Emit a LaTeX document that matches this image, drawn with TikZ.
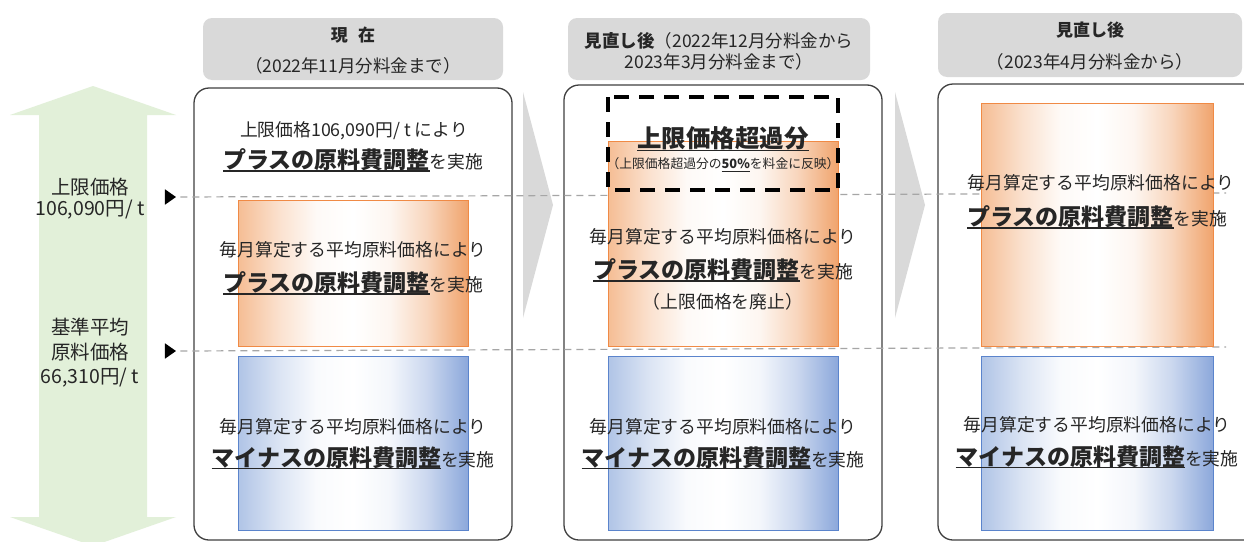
\documentclass[tikz,border=0pt]{standalone}
\usepackage{fontspec}
\setmainfont{Noto Sans CJK JP}
\usetikzlibrary{shapes.geometric}
\definecolor{tx}{HTML}{262626}
\definecolor{grn}{HTML}{E2F0D9}
\definecolor{hdrgray}{HTML}{D9D9D9}
\definecolor{chev}{HTML}{D9D9D9}
\definecolor{panelc}{HTML}{404040}
\definecolor{dashg}{HTML}{A6A6A6}
\definecolor{oL}{HTML}{F5BD94}
\definecolor{oR}{HTML}{F0A46D}
\definecolor{oB}{HTML}{F08A45}
\definecolor{bL}{HTML}{B0C4E6}
\definecolor{bR}{HTML}{8CA8DB}
\definecolor{bB}{HTML}{5B84CC}
\pgfdeclarehorizontalshading{oshade}{100bp}{color(0bp)=(oL); color(25bp)=(oL); color(34bp)=(oL!45!white); color(42bp)=(oL!8!white); color(50bp)=(white); color(58bp)=(oR!10!white); color(66bp)=(oR!45!white); color(75bp)=(oR); color(100bp)=(oR)}
\pgfdeclarehorizontalshading{bshade}{100bp}{color(0bp)=(bL); color(25bp)=(bL); color(34bp)=(bL!45!white); color(42bp)=(bL!8!white); color(50bp)=(white); color(58bp)=(bR!10!white); color(66bp)=(bR!45!white); color(75bp)=(bR); color(100bp)=(bR)}
\newsavebox\ulbox
\newcommand\myul[1]{\sbox\ulbox{#1}\rlap{\rule[-3.2pt]{\wd\ulbox}{1.3pt}}\usebox\ulbox}
\newcommand\fs[1]{\fontsize{#1}{#1}\selectfont}
\begin{document}
\begin{tikzpicture}[x=1pt,y=-1pt,
  txt/.style={text=tx,inner sep=0pt,font=\fs{17.8}},
  hdr/.style={fill=hdrgray,rounded corners=9pt,draw=none},
  panel/.style={draw=panelc,line width=1.3pt,rounded corners=15pt},
  obox/.style={draw=oB,line width=1pt,shading=oshade,shading angle=0,inner sep=0pt},
  bbox/.style={draw=bB,line width=1pt,shading=bshade,shading angle=0,inner sep=0pt},
  gdash/.style={draw=dashg,line width=1.2pt,dash pattern=on 7pt off 5pt},
  marker/.style={isosceles triangle,isosceles triangle apex angle=70,fill=black,inner sep=0pt,minimum height=11pt,minimum width=11pt},
  bigdash/.style={draw=black,line width=3.4pt,dash pattern=on 15pt off 10pt}
]
\clip (0,0) rectangle (1244,541);
\fill[white] (0,0) rectangle (1244,541);

% green double arrow
\fill[grn] (93,86) -- (176,115) -- (147,115) -- (147,517) -- (176,517) -- (93,546)
  -- (10,517) -- (39,517) -- (39,115) -- (10,115) -- cycle;

% headers
\node[hdr,minimum width=300pt,minimum height=62pt] (h1) at (353,49) {};
\node[hdr,minimum width=302pt,minimum height=62pt] (h2) at (719,49) {};
\node[hdr,minimum width=304pt,minimum height=64pt] (h3) at (1090,45) {};

% panels
\draw[panel] (194,88) rectangle (512,540);
\draw[panel] (564,85) rectangle (882,540);
\draw[panel] (938,84) rectangle (1270,540);

% chevrons
\fill[chev] (523,92) -- (553,205) -- (523,318) -- cycle;
\fill[chev] (895,92) -- (925,205) -- (895,318) -- cycle;

% markers and dashed lines
\node[marker] (m1) at (169,197) {};
\node[marker] (m2) at (169,351) {};
\coordinate (e1) at (1226,193);
\coordinate (e2) at (1226,347);
\draw[gdash] ([xshift=4pt]m1.east) -- (e1);
\draw[gdash] ([xshift=4pt]m2.east) -- (e2);

% boxes
\node[obox,minimum width=230pt,minimum height=146pt] (o1) at (353,273) {};
\node[bbox,minimum width=230pt,minimum height=174pt] (b1) at (353,443) {};
\node[obox,minimum width=230pt,minimum height=205pt] (o2) at (723,243.5) {};
\node[bbox,minimum width=230pt,minimum height=174pt] (b2) at (723,443) {};
\node[obox,minimum width=232pt,minimum height=243pt] (o3) at (1097,224.5) {};
\node[bbox,minimum width=232pt,minimum height=174pt] (b3) at (1097,443) {};

% left labels
\node[txt,font=\fs{19.5}] (l1) at (90,187) {上限価格};
\node[txt,font=\fs{19.5}] (l2) at (90,210) {106,090円/ t};
\node[txt,font=\fs{19.5}] (l3) at (90,327) {基準平均};
\node[txt,font=\fs{19.5}] (l4) at (90,352) {原料価格};
\node[txt,font=\fs{19.5}] (l5) at (90,378) {66,310円/ t};

% header texts
\node[txt,font=\fs{17}\bfseries] (h1a) at (353,35) {現\hspace{0.6em}在};
\node[txt,font=\fs{17.5}] (h1b) at (353,66) {（2022年11月分料金まで）};
\node[txt,font=\fs{17.5}] (h2a) at (719,41) {\textbf{見直し後}（2022年12月分料金から};
\node[txt,font=\fs{17.5}] (h2b) at (719,62) {2023年3月分料金まで）};
\node[txt,font=\fs{17}\bfseries] (h3a) at (1090,30) {見直し後};
\node[txt,font=\fs{17.5}] (h3b) at (1090,62) {（2023年4月分料金から）};

% panel 1 texts
\node[txt] (p1a) at (354,131) {上限価格106,090円/ t により};
\node[txt] (p1b) at (353,160) {\myul{\fs{23}\bfseries プラスの原料費調整}を実施};
\node[txt] (o1a) at (353,250) {毎月算定する平均原料価格により};
\node[txt] (o1b) at (353,283) {\myul{\fs{23}\bfseries プラスの原料費調整}を実施};
\node[txt] (b1a) at (353,427) {毎月算定する平均原料価格により};
\node[txt] (b1b) at (353,458) {\myul{\fs{23}\bfseries マイナスの原料費調整}を実施};

% panel 2 texts
\node[txt,font=\fs{24.5}\bfseries] (x2a) at (723,139) {\myul{上限価格超過分}};
\node[txt,font=\fs{12.8}] (x2b) at (723,165) {（上限価格超過分の\myul{\bfseries 50\%}を料金に反映）};
\node[txt] (o2a) at (723,237) {毎月算定する平均原料価格により};
\node[txt] (o2b) at (723,270) {\myul{\fs{23}\bfseries プラスの原料費調整}を実施};
\node[txt] (o2c) at (723,302) {（上限価格を廃止）};
\node[txt] (b2a) at (723,427) {毎月算定する平均原料価格により};
\node[txt] (b2b) at (723,458) {\myul{\fs{23}\bfseries マイナスの原料費調整}を実施};

% panel 3 texts
\node[txt] (o3a) at (1101,183) {毎月算定する平均原料価格により};
\node[txt] (o3b) at (1097,217) {\myul{\fs{23}\bfseries プラスの原料費調整}を実施};
\node[txt] (b3a) at (1097,425) {毎月算定する平均原料価格により};
\node[txt] (b3b) at (1097,457) {\myul{\fs{23}\bfseries マイナスの原料費調整}を実施};

% dashed excess frame
\draw[bigdash] (608,97) rectangle (838,190);
\end{tikzpicture}
\end{document}
